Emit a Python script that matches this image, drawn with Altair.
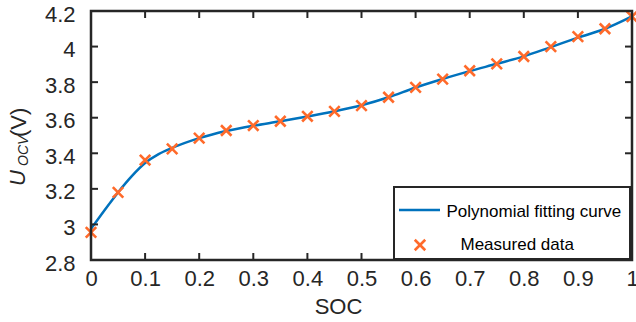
import altair as alt
import pandas as pd

# ---- data ----
soc_points = [0.0, 0.05, 0.1, 0.15, 0.2, 0.25, 0.3, 0.35, 0.4, 0.45, 0.5,
              0.55, 0.6, 0.65, 0.7, 0.75, 0.8, 0.85, 0.9, 0.95, 1.0]
ocv_points = [2.955, 3.18, 3.362, 3.425, 3.485, 3.528, 3.556, 3.58, 3.608, 3.636, 3.668,
              3.715, 3.771, 3.817, 3.864, 3.903, 3.944, 4.0, 4.056, 4.1, 4.168]

soc_curve = [0.0, 0.025, 0.05, 0.075, 0.1, 0.125, 0.15, 0.2, 0.25, 0.3, 0.35, 0.4,
             0.45, 0.5, 0.55, 0.6, 0.65, 0.7, 0.75, 0.8, 0.85, 0.9, 0.95, 1.0]
ocv_curve = [2.975, 3.08, 3.18, 3.27, 3.345, 3.395, 3.43, 3.485, 3.525, 3.555, 3.58, 3.607,
             3.636, 3.67, 3.715, 3.77, 3.818, 3.862, 3.903, 3.945, 3.997, 4.05, 4.1, 4.17]

x_ticks = [0, 0.1, 0.2, 0.3, 0.4, 0.5, 0.6, 0.7, 0.8, 0.9, 1.0]
y_ticks = [2.8, 3.0, 3.2, 3.4, 3.6, 3.8, 4.0, 4.2]

legend_labels = ["Polynomial fitting curve", "Measured data"]

W, H = 541, 249
FONT = "Liberation Sans"
AX = "#262626"
BLUE = "#0072BD"
ORANGE = "#FF6A2A"
TICK = 7

pts = pd.DataFrame({"soc": soc_points, "ocv": ocv_points})
crv = pd.DataFrame({"soc": soc_curve, "ocv": ocv_curve})
xt = pd.DataFrame({"soc": x_ticks})
yt = pd.DataFrame({"ocv": y_ticks})
one = pd.DataFrame({"k": [0]})

xs = alt.Scale(domain=[0, 1], nice=False, zero=False)
ys = alt.Scale(domain=[2.8, 4.2], nice=False, zero=False)

xaxis = alt.Axis(values=x_ticks, format="~g", title="SOC", grid=False, domain=False,
                 ticks=False, tickSize=0, labelFontSize=22, labelFont=FONT,
                 labelColor=AX, labelPadding=8, labelOverlap=False, labelFlush=False,
                 titleFont=FONT, titleFontSize=22,
                 titleFontWeight="normal", titleColor=AX, titleX=247, titleY=53,
                 titleBaseline="alphabetic", titleAlign="center")
yaxis = alt.Axis(values=y_ticks, format="~g", title=None, grid=False, domain=False,
                 ticks=False, tickSize=0, labelFontSize=22, labelFont=FONT,
                 labelColor=AX, labelPadding=16, labelOffset=3,
                 labelOverlap=False, labelFlush=False, labelBound=False)

X = alt.X("soc:Q", scale=xs, axis=xaxis)
Y = alt.Y("ocv:Q", scale=ys, axis=yaxis)

line = alt.Chart(crv).mark_line(color=BLUE, strokeWidth=2.5, interpolate="monotone").encode(
    x=X, y=Y)

CROSS = "M-1,-1L1,1M-1,1L1,-1"
points = alt.Chart(pts).mark_point(shape=CROSS, filled=False, stroke=ORANGE,
                                   strokeWidth=2.6, size=110, opacity=1).encode(x=X, y=Y)

tick_style = dict(color=AX, strokeWidth=2)
xt_bottom = alt.Chart(xt).mark_rule(**tick_style).encode(
    x=X, y=alt.value(H), y2=alt.value(H - TICK))
xt_top = alt.Chart(xt).mark_rule(**tick_style).encode(
    x=X, y=alt.value(0), y2=alt.value(TICK))
yt_left = alt.Chart(yt).mark_rule(**tick_style).encode(
    y=Y, x=alt.value(0), x2=alt.value(TICK))
yt_right = alt.Chart(yt).mark_rule(**tick_style).encode(
    y=Y, x=alt.value(W - TICK), x2=alt.value(W))

# legend
leg_box = alt.Chart(one).mark_rect(fill="white", stroke=AX, strokeWidth=2).encode(
    x=alt.value(303), x2=alt.value(539), y=alt.value(176), y2=alt.value(248))
leg_line = alt.Chart(one).mark_rule(color=BLUE, strokeWidth=2.5).encode(
    x=alt.value(308), x2=alt.value(349), y=alt.value(199))
leg_pt = alt.Chart(one).mark_point(shape=CROSS, filled=False, stroke=ORANGE,
                                   strokeWidth=2.6, size=110, opacity=1).encode(
    x=alt.value(329), y=alt.value(234))
leg_t1 = alt.Chart(one).mark_text(text=legend_labels[0], align="left", baseline="alphabetic",
                                  font=FONT, fontSize=17, color="black").encode(
    x=alt.value(355.5), y=alt.value(205.5))
leg_t2 = alt.Chart(one).mark_text(text=legend_labels[1], align="left", baseline="alphabetic",
                                  font=FONT, fontSize=17, color="black").encode(
    x=alt.value(369.5), y=alt.value(239))

# y-axis title: U_OCV(V)
t_u = alt.Chart(one).mark_text(text="U", align="left", baseline="alphabetic", angle=270,
                               font=FONT, fontSize=22, fontStyle="italic", color=AX).encode(
    x=alt.value(-66), y=alt.value(175))
t_ocv = alt.Chart(one).mark_text(text="OCV", align="left", baseline="alphabetic", angle=270,
                                 font=FONT, fontSize=14, fontStyle="italic", color=AX).encode(
    x=alt.value(-63), y=alt.value(155))
t_v = alt.Chart(one).mark_text(text="(V)", align="left", baseline="alphabetic", angle=270,
                               font=FONT, fontSize=22, color=AX).encode(
    x=alt.value(-65), y=alt.value(126))

frame = alt.Chart(one).mark_rect(fill="white", fillOpacity=0, stroke=AX, strokeWidth=2.5).encode(
    x=alt.value(0), x2=alt.value(W), y=alt.value(0), y2=alt.value(H))

chart = alt.layer(
    line, xt_bottom, xt_top, yt_left, yt_right, points,
    leg_box, leg_line, leg_pt, leg_t1, leg_t2, t_u, t_ocv, t_v, frame
).properties(
    width=W, height=H,
    autosize=alt.AutoSizeParams(type="none"),
    padding={"left": 91, "top": 11, "right": 4, "bottom": 62},
    background="white",
).configure_view(stroke=None).configure_axis(labelOverlap=False)

chart.save("out.html", embed_options={"renderer": "svg", "actions": False})
